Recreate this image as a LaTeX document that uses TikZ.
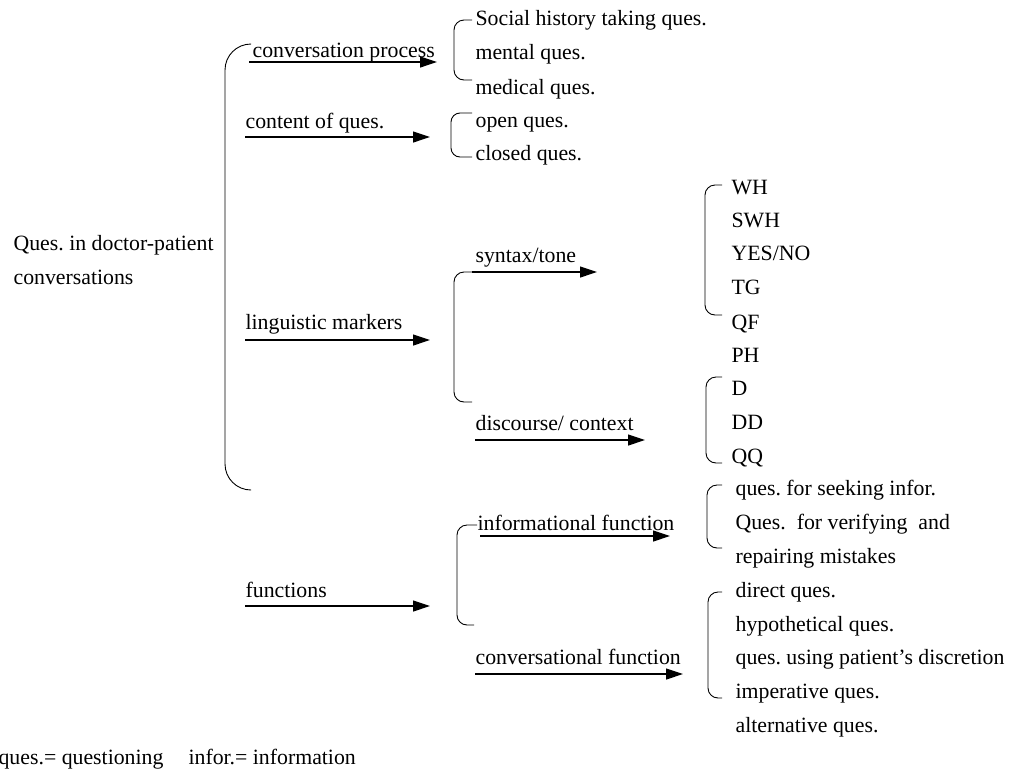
\documentclass[tikz,border=0pt]{standalone}
\usepackage{fontspec}
\setmainfont{Liberation Serif}
\usetikzlibrary{arrows.meta}
\frenchspacing

\begin{document}
\begin{tikzpicture}[x=1pt,y=-1pt,->,>={Triangle[length=17pt,width=11pt]},
  line width=1.2pt,
  item/.style={inner sep=0pt,anchor=base west,font=\fontsize{21.8}{26}\selectfont},
  brace/.style={-,line width=0.9pt,rounded corners=10pt}]
  \useasboundingbox (0,0) rectangle (1013,769);

  % root
  \node[item] (root1) at (13,250) {Ques. in doctor-patient};
  \node[item] (root2) at (13,284) {conversations};

  % first level
  \node[item] (cp)  at (252,57)  {conversation process};
  \node[item] (coq) at (245,128) {content of ques.};
  \node[item] (lm)  at (245,329) {linguistic markers};
  \node[item] (fn)  at (245,597) {functions};

  % second level
  \node[item] (st)  at (475,262) {syntax/tone};
  \node[item] (dc)  at (475,430) {discourse/ context};
  \node[item] (inf) at (477,530) {informational function};
  \node[item] (cvf) at (475,664) {conversational function};

  % leaves
  \node[item] (soc) at (475,25)  {Social history taking ques.};
  \node[item] (men) at (475,59)  {mental ques.};
  \node[item] (med) at (475,94)  {medical ques.};
  \node[item] (opn) at (475,127) {open ques.};
  \node[item] (cls) at (475,160) {closed ques.};

  \node[item] (wh)  at (731,194) {WH};
  \node[item] (swh) at (731,227) {SWH};
  \node[item] (yn)  at (731,260) {YES/NO};
  \node[item] (tg)  at (731,294) {TG};
  \node[item] (qf)  at (731,329) {QF};
  \node[item] (ph)  at (731,362) {PH};
  \node[item] (d)   at (731,395) {D};
  \node[item] (dd)  at (731,429) {DD};
  \node[item] (qq)  at (731,463) {QQ};

  \node[item] (sk)  at (735,495) {ques. for seeking infor.};
  \node[item] (vf)  at (735,529) {Ques.\ \ for verifying\ \ and};
  \node[item] (rp)  at (735,563) {repairing mistakes};
  \node[item] (dq)  at (735,597) {direct ques.};
  \node[item] (hq)  at (735,631) {hypothetical ques.};
  \node[item] (uq)  at (735,664) {ques. using patient’s discretion};
  \node[item] (iq)  at (735,698) {imperative ques.};
  \node[item] (aq)  at (735,732) {alternative ques.};

  % abbreviations
  \node[item] (note) at (-2,764) {ques.= questioning\hspace{0.9em} infor.= information};

  % arrow ends
  \coordinate (cpA)  at (249,62);  \coordinate (cpB)  at (437,62);
  \coordinate (coqA) at (245,137); \coordinate (coqB) at (430,137);
  \coordinate (lmA)  at (245,340); \coordinate (lmB)  at (430,340);
  \coordinate (fnA)  at (245,606); \coordinate (fnB)  at (430,606);
  \coordinate (stA)  at (472,272); \coordinate (stB)  at (597,272);
  \coordinate (dcA)  at (475,440); \coordinate (dcB)  at (645,440);
  \coordinate (infA) at (480,536); \coordinate (infB) at (670,536);
  \coordinate (cvfA) at (475,674); \coordinate (cvfB) at (683,674);

  \path
    (cpA)  edge (cpB)
    (coqA) edge (coqB)
    (lmA)  edge (lmB)
    (fnA)  edge (fnB)
    (stA)  edge (stB)
    (dcA)  edge (dcB)
    (infA) edge (infB)
    (cvfA) edge (cvfB);

  % brackets
  \draw[brace,rounded corners=26pt] (250,44) -- (225,44) -- (225,490) -- (250,490);
  \draw[brace] (stA) -- (454,272) -- (454,402) -- (472,402);
  \draw[brace] (477,525) -- (457,525) -- (457,625) -- (474,625);
  \draw[brace] (472,20) -- (454,20) -- (454,80) -- (472,80);
  \draw[brace,rounded corners=9pt] (472,113) -- (451,113) -- (451,157) -- (472,157);
  \draw[brace] (722,185) -- (705,185) -- (705,315) -- (722,315);
  \draw[brace] (722,377) -- (706,377) -- (706,463) -- (722,463);
  \draw[brace] (722,485) -- (707,485) -- (707,548) -- (722,548);
  \draw[brace] (722,592) -- (708,592) -- (708,698) -- (722,698);
\end{tikzpicture}
\end{document}
